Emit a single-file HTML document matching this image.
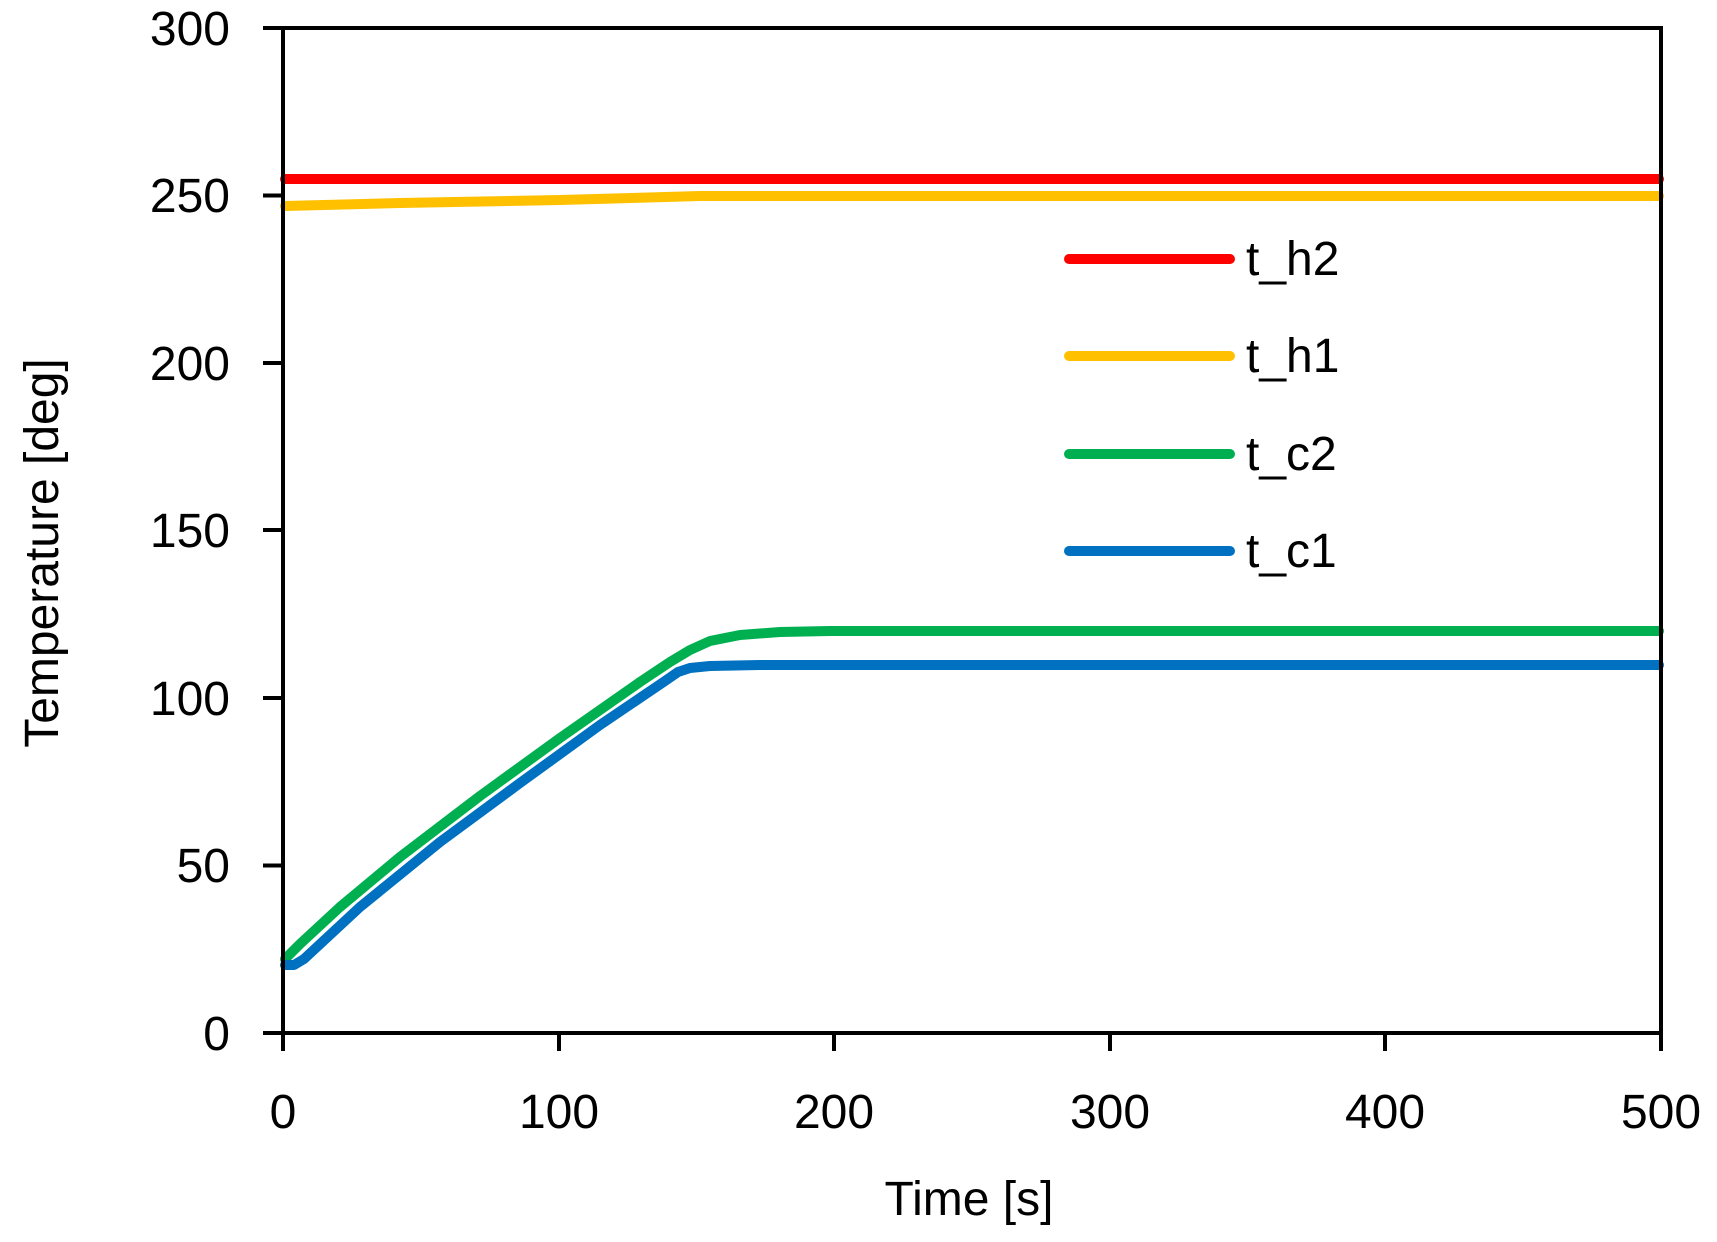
<!DOCTYPE html>
<html><head><style>body{margin:0;background:#fff}</style></head><body>
<svg width="1717" height="1237" xmlns="http://www.w3.org/2000/svg" font-family="Liberation Sans, sans-serif">
<rect width="1717" height="1237" fill="#fff"/>
<g stroke="#000" stroke-width="4">
<line x1="263" y1="28" x2="283" y2="28"/><line x1="263" y1="195.5" x2="283" y2="195.5"/><line x1="263" y1="363" x2="283" y2="363"/><line x1="263" y1="530" x2="283" y2="530"/><line x1="263" y1="698" x2="283" y2="698"/><line x1="263" y1="865.5" x2="283" y2="865.5"/><line x1="263" y1="1033" x2="283" y2="1033"/>
<line x1="283" y1="1033" x2="283" y2="1051"/><line x1="559" y1="1033" x2="559" y2="1051"/><line x1="834" y1="1033" x2="834" y2="1051"/><line x1="1110" y1="1033" x2="1110" y2="1051"/><line x1="1385" y1="1033" x2="1385" y2="1051"/><line x1="1661" y1="1033" x2="1661" y2="1051"/>
</g>
<g fill="none" stroke-width="10" stroke-linecap="round" stroke-linejoin="round">
<path d="M285 179 L1659 179" stroke="#ff0000"/>
<path d="M285 206 L400 203 L560 200 L700 196 L850 196 L1659 196" stroke="#ffc000"/>
<path d="M285 959 L300 944 L340 907 L400 857 L480 796 L560 738 L640 682 L670 662 L690 650 L710 641 L740 635 L780 632 L830 631 L1659 631" stroke="#00b050"/>
<path d="M285 965 L294 965 L304 959 L360 907 L440 842 L520 783 L600 725 L665 681 L678 672 L690 668 L710 666 L760 665 L1659 665" stroke="#0070c0"/>
<line x1="1069" y1="259" x2="1230" y2="259" stroke="#ff0000"/>
<line x1="1069" y1="356" x2="1230" y2="356" stroke="#ffc000"/>
<line x1="1069" y1="454" x2="1230" y2="454" stroke="#00b050"/>
<line x1="1069" y1="551" x2="1230" y2="551" stroke="#0070c0"/>
</g>
<rect x="283" y="28" width="1378" height="1005" fill="none" stroke="#000" stroke-width="4"/>
<g font-size="48" fill="#000" text-anchor="end">
<text x="230" y="45">300</text><text x="230" y="212">250</text><text x="230" y="380">200</text><text x="230" y="547">150</text><text x="230" y="715">100</text><text x="230" y="882">50</text><text x="230" y="1050">0</text>
</g>
<g font-size="48" fill="#000" text-anchor="middle">
<text x="283" y="1128">0</text><text x="559" y="1128">100</text><text x="834" y="1128">200</text><text x="1110" y="1128">300</text><text x="1385" y="1128">400</text><text x="1661" y="1128">500</text>
<text x="969" y="1215">Time [s]</text>
<text transform="translate(58 553) rotate(-90)">Temperature [deg]</text>
</g>
<g font-size="48" fill="#000">
<text x="1246" y="275">t_h2</text><text x="1246" y="372">t_h1</text><text x="1246" y="470">t_c2</text><text x="1246" y="567">t_c1</text>
</g>
</svg>
</body></html>
